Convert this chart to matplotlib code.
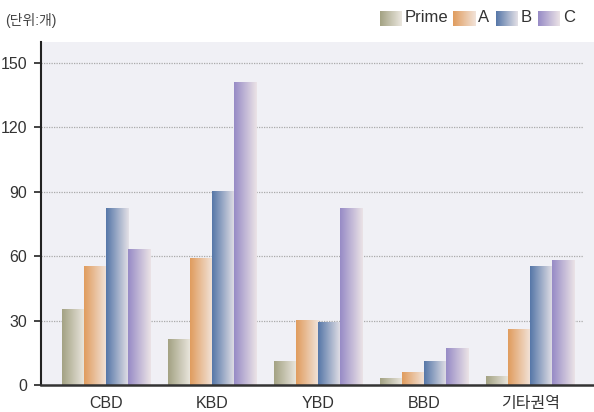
import numpy as np
import matplotlib
matplotlib.use("Agg")
import matplotlib.pyplot as plt
from matplotlib.colors import LinearSegmentedColormap

plt.rcParams['font.family'] = ['Liberation Sans', 'Noto Sans CJK KR', 'DejaVu Sans']

categories = ["CBD", "KBD", "YBD", "BBD", "기타권역"]
series_names = ["Prime", "A", "B", "C"]
prime = [35, 21, 11, 3, 4]
grade_a = [55, 59, 30, 6, 26]
grade_b = [82, 90, 29, 11, 55]
grade_c = [63, 141, 82, 17, 58]
yticks = [0, 30, 60, 90, 120, 150]
unit_label = "(단위:개)"

series = [prime, grade_a, grade_b, grade_c]
grad_colors = [
    ("#a3a283", "#ebe7df"),
    ("#e09c5e", "#f2e4da"),
    ("#5677a8", "#e3e0e6"),
    ("#978bc6", "#ebe3e6"),
]

W, H = 594, 412
fig = plt.figure(figsize=(W / 100, H / 100), dpi=100)
ax_left, ax_right, ax_bottom, ax_top = 41, 594, 412 - 385, 412 - 42
ax = fig.add_axes([ax_left / W, ax_bottom / H, (ax_right - ax_left) / W, (ax_top - ax_bottom) / H])
ax.set_facecolor("#f0f0f5")

x = np.arange(len(categories))
bw = 0.2075
xmin, xmax = -0.615, 4.6
ymax = 150 * (385 - 42) / (385 - 63)

grad = np.linspace(0, 1, 64).reshape(1, -1)
for i, (vals, (c0, c1)) in enumerate(zip(series, grad_colors)):
    cmap = LinearSegmentedColormap.from_list(f"g{i}", [c0, c1])
    offs = (i - 1.5) * bw
    bars = ax.bar(x + offs, vals, width=bw, color="none", zorder=3)
    for b in bars:
        x0, y0 = b.get_x(), b.get_y()
        ax.imshow(grad, cmap=cmap, aspect="auto", zorder=3,
                  extent=(x0, x0 + b.get_width(), y0, y0 + b.get_height()),
                  interpolation="bilinear")
ax.set_xlim(xmin, xmax)
ax.set_ylim(0, ymax)

for yv in yticks[1:]:
    ax.plot([xmin, 4.5], [yv, yv], ls=(0, (1, 1)), color="#aaaaaa", lw=0.9, zorder=1)

ax.set_yticks(yticks)
ax.set_yticklabels([str(v) for v in yticks], fontsize=11.5, color="#333333")
ax.set_xticks(x)
ax.set_xticklabels(categories, fontsize=11.5, color="#333333")
ax.tick_params(axis="y", length=5, width=1.2, color="#222222", pad=5)
ax.tick_params(axis="x", length=0, pad=8)
for s in ["top", "right"]:
    ax.spines[s].set_visible(False)
ax.spines["left"].set_color("#222222")
ax.spines["left"].set_linewidth(1.5)
ax.spines["bottom"].set_color("#333333")
ax.spines["bottom"].set_linewidth(1.8)
ax.spines["bottom"].set_zorder(4)

fig.text(5 / W, 1 - 20 / H, unit_label, fontsize=10, color="#444444", va="center", ha="left")

# legend
leg_x = [380, 453, 496, 538]
for name, lx, (c0, c1), i in zip(series_names, leg_x, grad_colors, range(4)):
    cmap = LinearSegmentedColormap.from_list(f"l{i}", [c0, c1])
    lax = fig.add_axes([lx / W, 1 - 26 / H, 22 / W, 15 / H])
    lax.imshow(grad, cmap=cmap, aspect="auto", interpolation="bilinear")
    lax.axis("off")
    fig.text((lx + 25) / W, 1 - 18 / H, name, fontsize=12, color="#333333", va="center", ha="left")

fig.savefig("out.png", dpi=100)
